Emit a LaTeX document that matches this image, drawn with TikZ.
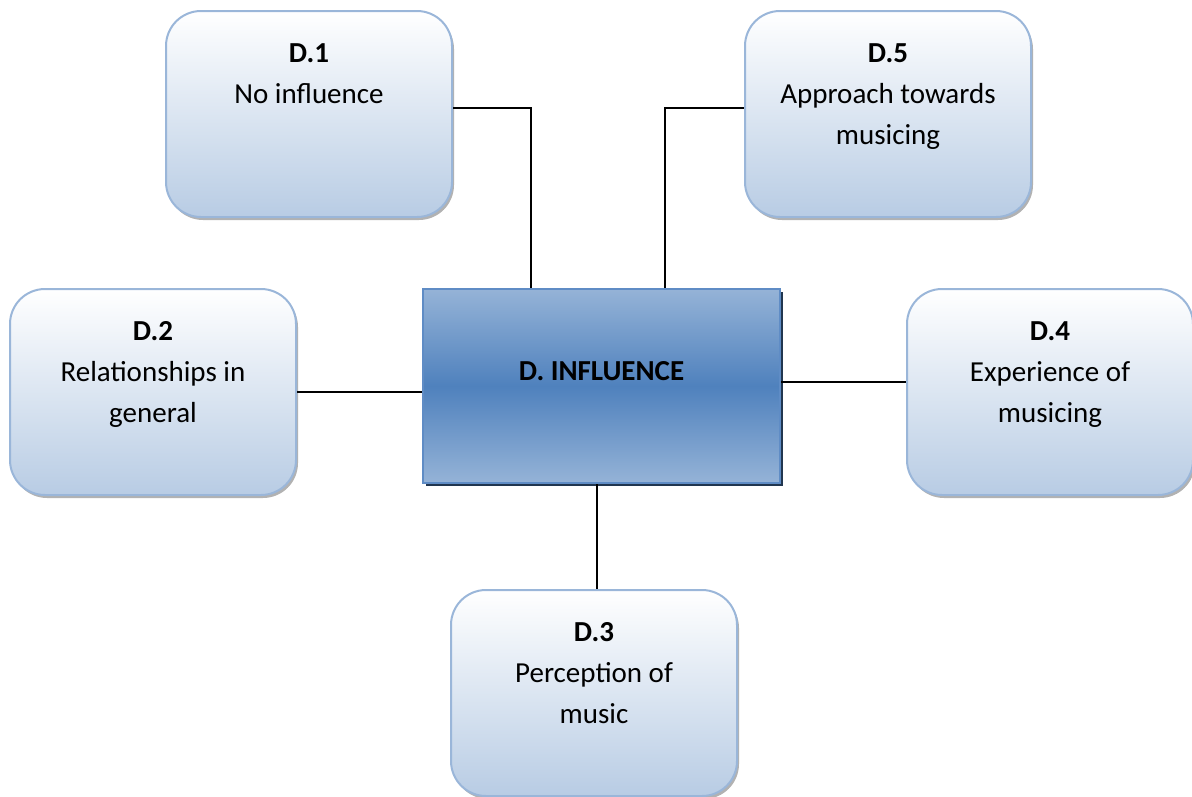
\documentclass[tikz,border=0pt]{standalone}
\usepackage{fontspec}
\setmainfont{Carlito}
\usetikzlibrary{positioning,shadows}
\definecolor{boxline}{HTML}{9AB6D9}
\definecolor{boxlow}{HTML}{B8CCE4}
\definecolor{coreline}{HTML}{5F8CC5}
\definecolor{coremid}{HTML}{4F81BD}
\definecolor{coreedge}{HTML}{95B3D7}
\tikzset{
	box/.style={draw=boxline,line width=2pt,rounded corners=35pt,
		top color=white,bottom color=boxlow,inner sep=10pt,
		drop shadow={shadow xshift=2pt,shadow yshift=-3pt,fill=black!30,opacity=1}},
	core/.style={draw=coreline,line width=2pt,
		top color=coreedge,bottom color=coreedge,middle color=coremid,
		minimum width=357pt,minimum height=194pt,
		text height=19pt,text depth=31pt,font=\bfseries,
		drop shadow={shadow xshift=3pt,shadow yshift=-3pt,fill=black!30!coremid!60!black,opacity=1}},
	link/.style={line width=1.3pt}
}
\newcommand{\boxtext}[2]{\parbox[c][186pt][t]{266pt}{\centering\rule{0pt}{41pt}\textbf{#1}\\#2}}
\begin{document}
\begin{tikzpicture}[x=1pt,y=-1pt]
	\fontsize{29}{41}\selectfont
	\useasboundingbox (0,0) rectangle (1192,796);
	\node[core] (core) at (601.5,386) {D. INFLUENCE};
	\node[box] (d1) at (309,114) {\boxtext{D.1}{No influence}};
	\node[box] (d5) at (888,114) {\boxtext{D.5}{Approach towards\\musicing}};
	\node[box] (d2) at (153,392) {\boxtext{D.2}{Relationships in\\general}};
	\node[box] (d4) at (1050,392) {\boxtext{D.4}{Experience of\\musicing}};
	\node[box] (d3) at (594,693) {\boxtext{D.3}{Perception of\\music}};
	\draw[link] ([yshift=6pt]d1.east) -| ([xshift=-70.5pt]core.north);
	\draw[link] ([xshift=63.5pt]core.north) |- ([yshift=6pt]d5.west);
	\draw[link] (d2.east) -- (d2.east -| core.west);
	\draw[link] ([yshift=4pt]core.east) -- ([yshift=4pt]core.east -| d4.west);
	\draw[link] ([xshift=-4.5pt]core.south) -- ([xshift=-4.5pt]core.south |- d3.north);
\end{tikzpicture}
\end{document}
